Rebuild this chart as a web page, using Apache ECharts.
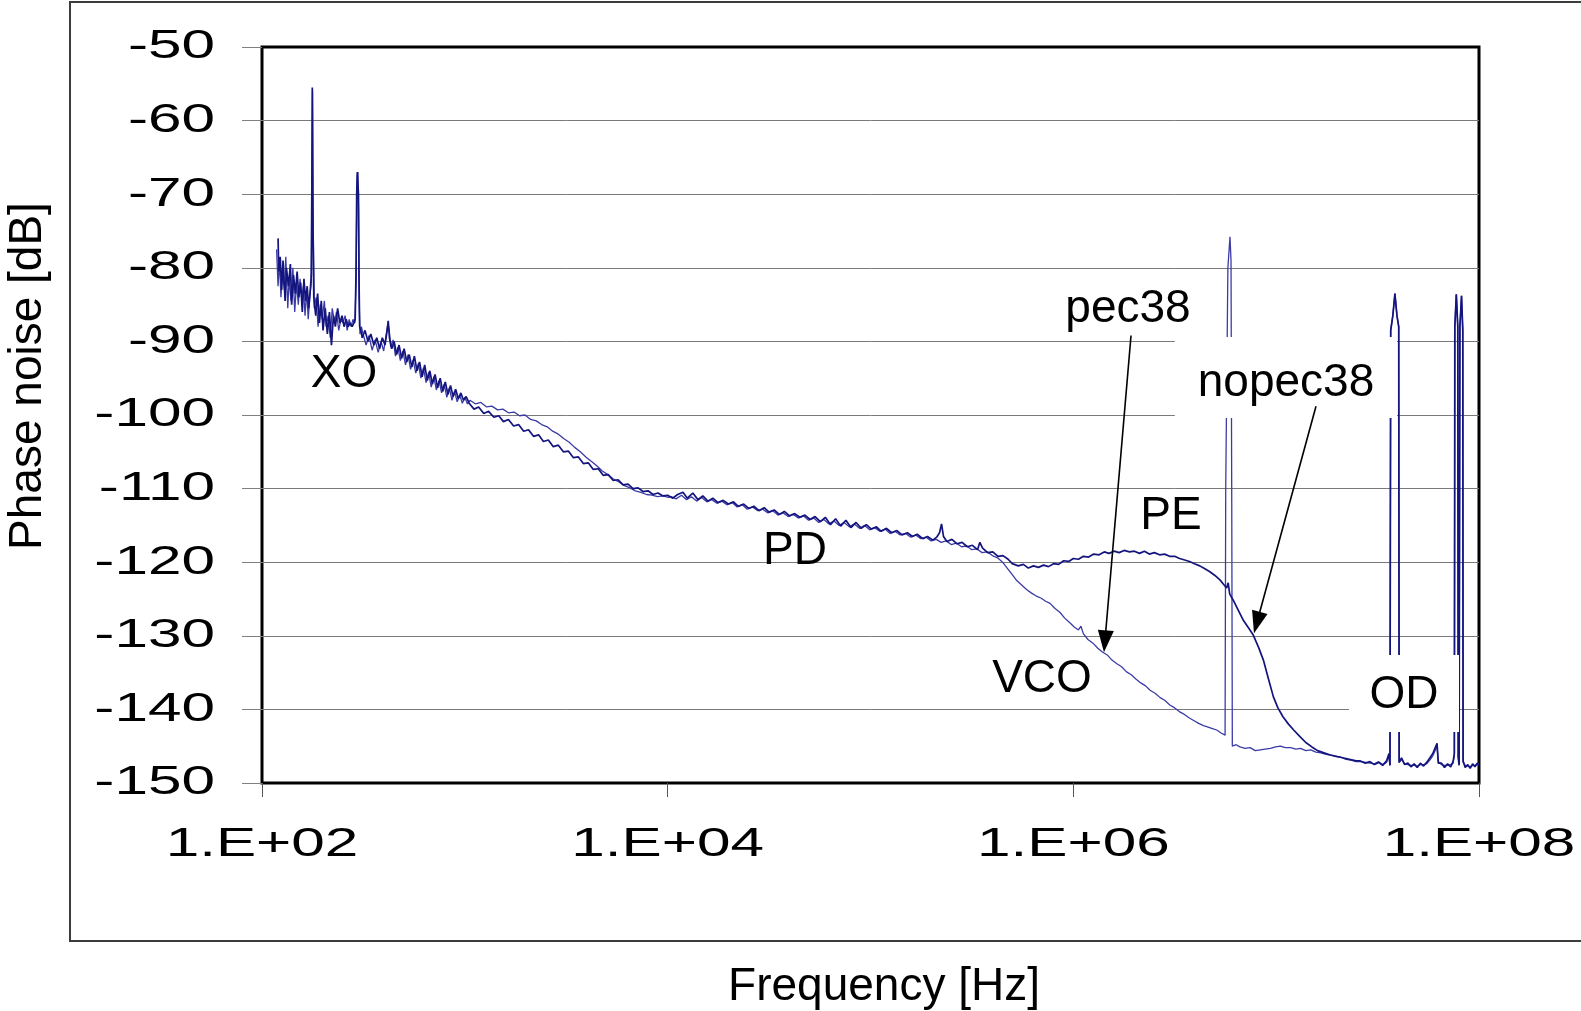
<!DOCTYPE html>
<html><head><meta charset="utf-8">
<script src="https://cdn.jsdelivr.net/npm/echarts/dist/echarts.min.js"></script>
<style>html,body{margin:0;padding:0;background:#fff}#c{width:1581px;height:1011px}</style>
</head><body><div id="c"></div>
<script>
// ---- tick labels ----
const xTickValues = [1e2, 1e4, 1e6, 1e8];
const xTickLabels = ['1.E+02', '1.E+04', '1.E+06', '1.E+08'];
const yTickValues = [-50, -60, -70, -80, -90, -100, -110, -120, -130, -140, -150];

// ---- series: [frequency Hz, phase noise dB] ----
const nopec38 = [
[120,-76.0],[121,-80.5],[123,-78.5],[125,-83.0],[127,-79.0],[130,-84.5],[132,-80.0],[135,-82.5],[138,-79.5],[140,-85.0],
[143,-81.0],[146,-83.5],[149,-80.5],[152,-84.0],[155,-82.0],[158,-86.0],[161,-81.5],[164,-84.5],[167,-82.5],[170,-85.5],
[173,-83.0],[175,-81.0],[176,-70.0],[177,-55.5],[178,-72.0],[180,-84.0],[184,-86.5],[188,-83.5],[192,-87.5],[196,-84.5],
[200,-88.5],[205,-85.5],[210,-89.0],[215,-86.0],[220,-90.5],[225,-86.5],[230,-88.0],[236,-85.5],[242,-87.5],[248,-86.5],
[254,-88.0],[260,-87.0],[266,-88.0],[272,-87.5],[278,-88.0],[284,-87.5],[288,-87.0],[291,-80.0],[293,-70.0],[295,-67.0],
[297,-67.0],[299,-70.0],[301,-82.0],[303,-88.0],[307,-88.5],
[312,-89.5],[322,-88.5],[333,-90.0],[344,-89.0],[356,-90.5],[368,-89.5],[380,-91.0],[392,-89.5],[404,-90.5],[414,-88.5],
[419,-87.2],[425,-89.5],[436,-91.0],[448,-90.0],[461,-91.8],[474,-90.5],[488,-92.3],[502,-91.0],[517,-92.8],[532,-91.8],
[548,-93.5],[564,-92.0],[581,-94.0],[598,-92.8],[616,-94.8],[634,-93.2],[653,-95.3],[672,-94.0],[692,-95.8],[713,-94.5],
[734,-96.3],[756,-95.0],[778,-96.8],[801,-95.5],[825,-97.2],[850,-96.0],[875,-97.5],[901,-96.5],[928,-97.8],[956,-97.0],
[985,-98.0],[1015,-97.5],
[1050,-98.4],[1110,-99.2],[1170,-98.9],[1240,-99.8],[1310,-99.5],[1390,-100.3],[1470,-100.1],[1550,-100.9],[1640,-100.6],
[1740,-101.5],[1840,-101.3],[1950,-102.2],[2060,-102.0],[2180,-102.9],[2310,-102.7],[2440,-103.6],[2580,-103.4],[2730,-104.3],
[2890,-104.1],[3060,-105.0],[3240,-104.9],[3430,-105.8],[3630,-105.7],[3840,-106.6],[4060,-106.5],[4300,-107.4],[4550,-107.3],
[4810,-108.2],[5090,-108.1],[5390,-108.9],[5700,-108.8],[6030,-109.5],[6380,-109.4],[6750,-110.0],[7150,-109.9],[7560,-110.4],
[8000,-110.3],[8470,-110.8],[8960,-110.6],[9480,-111.0],[10000,-110.9],
[10600,-111.3],[11200,-110.8],[11900,-110.5],[12500,-111.3],[13300,-110.6],[14100,-111.5],[14900,-111.0],[15800,-111.7],
[16700,-111.3],[17700,-111.9],[18800,-111.6],[19900,-112.1],[21100,-111.8],[22300,-112.4],[23700,-112.1],[25100,-112.7],
[26600,-112.4],[28200,-113.0],[29900,-112.6],[31600,-113.2],[33500,-112.9],[35500,-113.5],[37600,-113.1],[39900,-113.7],
[42300,-113.4],[44800,-113.9],[47500,-113.6],[50300,-114.2],[53300,-113.8],[56500,-114.5],[59900,-113.9],[63500,-114.9],
[67300,-114.1],[71300,-115.1],[75600,-114.3],[80100,-115.3],[84900,-114.6],[90000,-115.4],[95400,-114.9],[101000,-115.5],
[107000,-115.2],[113000,-115.8],[120000,-115.4],[127000,-116.0],[135000,-115.7],[143000,-116.3],[152000,-116.0],[161000,-116.5],
[170000,-116.2],[181000,-116.8],[191000,-116.5],[203000,-117.0],[212000,-116.6],[219000,-116.0],[224000,-114.8],[229000,-116.5],
[238000,-117.2],[252000,-116.9],[267000,-117.5],[283000,-117.3],[300000,-117.9],[318000,-117.7],[337000,-118.3],[346000,-117.3],
[357000,-118.1],[378000,-118.7],[401000,-118.6],[425000,-119.2],[450000,-119.1],[477000,-119.6],
[500000,-120.2],[535000,-120.5],[567000,-120.3],[600000,-120.8],[636000,-120.5],[673000,-120.7],[713000,-120.4],[754000,-120.6],
[799000,-120.2],[846000,-120.3],[896000,-119.8],[949000,-119.9],[1000000,-119.5],[1060000,-119.6],[1120000,-119.2],[1190000,-119.3],
[1260000,-118.9],[1340000,-119.0],[1420000,-118.6],[1500000,-118.8],[1590000,-118.5],[1680000,-118.7],[1780000,-118.4],[1890000,-118.6],
[2000000,-118.5],[2120000,-118.8],[2240000,-118.5],[2370000,-118.9],[2510000,-118.7],[2660000,-119.0],[2820000,-118.9],[2980000,-119.2],
[3160000,-119.2],[3340000,-119.5],[3540000,-119.7],[3740000,-119.9],[3960000,-120.2],[4200000,-120.5],[4450000,-120.9],[4710000,-121.3],
[4990000,-121.8],[5280000,-122.4],[5500000,-123.0],[5700000,-123.5],[5800000,-122.8],[5900000,-124.3],[6150000,-125.2],[6500000,-126.5],
[6890000,-127.9],[7300000,-128.9],[7710000,-129.9],[8200000,-131.6],[8650000,-133.3],[9150000,-135.8],[9690000,-138.3],[10200000,-139.8],
[10800000,-141.0],[11500000,-142.0],[12200000,-142.8],[13100000,-143.7],[14000000,-144.5],[15000000,-145.1],[16000000,-145.6],
[17200000,-145.9],[18500000,-146.2],[20000000,-146.4],[21500000,-146.6],[23000000,-146.8],[24800000,-147.0],
[26000000,-147.0],[27500000,-147.3],[29000000,-147.1],[30500000,-147.5],[32000000,-147.2],[33500000,-147.6],[35000000,-147.0],
[36000000,-146.0],[36400000,-147.6],[36700000,-88.5],[37600000,-86.5],[38500000,-83.5],[39400000,-86.5],[40200000,-88.0],
[40400000,-147.2],[41500000,-146.6],[43000000,-147.5],[44600000,-147.3],[46200000,-147.8],[47900000,-147.4],[49600000,-147.9],
[51400000,-147.3],[53300000,-147.7],[55200000,-147.2],[57200000,-146.6],[59200000,-146.0],[62100000,-144.6],[63000000,-147.3],
[65300000,-147.3],[67600000,-147.9],[70000000,-147.4],[72500000,-147.8],[74500000,-147.1],[75600000,-146.0],[76000000,-88.0],
[77300000,-83.6],[78600000,-88.0],[79000000,-146.5],[79800000,-147.6],[80500000,-88.0],[82000000,-83.8],[83200000,-88.5],
[83500000,-147.0],[85500000,-147.9],[88000000,-147.5],[90500000,-148.0],[93000000,-147.4],[95500000,-147.8],[98000000,-147.3],
[100000000,-147.6]
];

const pec38 = [
[118,-77.5],[120,-82.5],[122,-79.0],[124,-84.0],[126,-80.5],[129,-83.0],[131,-78.5],[134,-85.5],[136,-81.5],[139,-84.5],
[142,-80.0],[145,-86.0],[148,-82.0],[151,-85.0],[154,-81.5],[157,-84.0],[160,-82.5],[163,-86.5],[166,-83.0],[169,-87.0],
[172,-84.0],[175,-82.0],[176.5,-68.0],[177.5,-56.0],[179,-75.0],[181,-85.5],[185,-84.0],[189,-88.0],[194,-85.0],[198,-87.0],
[203,-84.5],[207,-88.0],[212,-86.5],[217,-89.5],[222,-85.5],[228,-87.5],[233,-86.0],[239,-88.5],[245,-87.0],[251,-87.5],
[257,-86.5],[263,-88.5],[269,-87.0],[275,-88.0],[281,-87.0],[287,-87.5],[291,-82.0],[293,-72.0],[295,-67.5],[297,-67.0],
[299,-72.0],[301,-84.0],[304,-89.0],[309,-88.0],
[315,-89.0],[326,-90.5],[337,-89.2],[349,-91.2],[361,-89.8],[374,-91.5],[386,-90.0],[398,-91.3],[410,-89.0],[418,-87.5],
[424,-88.5],[431,-90.8],[443,-89.8],[455,-92.0],[468,-90.8],[481,-92.6],[495,-91.3],[510,-93.2],[525,-91.8],[540,-93.8],
[556,-92.5],[573,-94.3],[590,-93.0],[607,-95.0],[625,-93.6],[644,-95.6],[663,-94.2],[683,-96.2],[703,-94.8],[724,-96.6],
[746,-95.3],[768,-97.0],[791,-95.8],[815,-97.6],[839,-96.3],[864,-98.0],[890,-96.8],[917,-98.2],[944,-97.3],[972,-98.4],
[1001,-97.6],[1030,-98.5],
[1060,-98.0],[1130,-98.5],[1200,-98.3],[1280,-98.9],[1360,-98.8],[1450,-99.3],[1540,-99.2],[1640,-99.7],[1750,-99.6],
[1860,-100.1],[1980,-100.0],[2110,-100.6],[2250,-100.8],[2390,-101.3],[2550,-101.6],[2710,-102.2],[2890,-102.6],[3070,-103.2],
[3270,-103.7],[3480,-104.4],[3710,-105.0],[3950,-105.7],[4200,-106.3],[4470,-106.9],[4760,-107.6],[5070,-108.1],[5400,-108.7],
[5750,-109.1],[6120,-109.6],[6510,-109.9],[6930,-110.3],[7380,-110.5],[7860,-110.8],[8370,-110.9],[8910,-111.1],[9480,-111.0],
[10100,-111.2],
[10400,-111.1],[11000,-111.4],[11700,-110.9],[12400,-111.5],[13100,-111.1],[13900,-111.7],[14700,-111.2],[15600,-111.8],
[16500,-111.5],[17500,-112.0],[18500,-111.7],[19600,-112.2],[20800,-111.9],[22000,-112.5],[23300,-112.2],[24700,-112.8],
[26200,-112.5],[27800,-113.0],[29400,-112.8],[31200,-113.3],[33000,-113.0],[35000,-113.6],[37100,-113.3],[39300,-113.8],
[41600,-113.5],[44100,-114.0],[46700,-113.7],[49500,-114.3],[52500,-114.0],[55600,-114.6],[58900,-114.2],[62400,-114.8],
[66100,-114.4],[70000,-115.0],[74200,-114.6],[78600,-115.2],[83300,-114.8],[88300,-115.4],[93500,-115.0],[99100,-115.6],
[105000,-115.3],[111000,-115.8],[118000,-115.5],[125000,-116.1],[132000,-115.8],[140000,-116.3],[149000,-116.1],[158000,-116.6],
[167000,-116.3],[177000,-116.8],[188000,-116.6],[199000,-117.1],[211000,-116.9],[223000,-117.3],[236000,-117.1],[250000,-117.6],
[265000,-117.4],[281000,-117.9],[298000,-117.8],[316000,-118.3],[335000,-118.2],[355000,-118.7],[376000,-118.6],[399000,-119.1],
[423000,-119.4],[448000,-120.0],[475000,-120.9],[500000,-121.7],[526000,-122.5],[556000,-123.1],[588000,-123.7],[622000,-124.2],
[657000,-124.6],[695000,-124.9],[730000,-125.3],[768000,-125.6],[812000,-126.3],[858000,-126.8],[907000,-127.6],[958000,-128.2],
[1010000,-128.8],[1060000,-129.2],[1090000,-128.7],[1120000,-129.7],[1180000,-130.5],[1250000,-131.0],[1320000,-131.7],[1390000,-132.2],
[1470000,-132.6],[1550000,-133.3],[1640000,-133.8],[1730000,-134.2],[1830000,-134.9],[1930000,-135.3],[2040000,-135.9],[2150000,-136.4],
[2270000,-136.8],[2390000,-137.4],[2530000,-137.8],[2680000,-138.4],[2830000,-138.8],[2990000,-139.4],[3160000,-139.8],[3330000,-140.3],
[3490000,-140.6],[3700000,-141.1],[3920000,-141.5],[4150000,-141.9],[4380000,-142.2],[4620000,-142.4],[4850000,-142.6],[5090000,-142.8],
[5350000,-143.2],[5600000,-143.5],[5640000,-110.0],[5780000,-80.0],[5920000,-75.8],[5990000,-79.0],[6040000,-112.0],[6080000,-145.0],
[6350000,-144.8],[6630000,-145.1],[7030000,-145.3],[7440000,-145.2],[7890000,-145.6],[8350000,-145.5],[8840000,-145.4],[9360000,-145.3],
[9930000,-145.1],[10500000,-145.0],[11100000,-145.2],[11800000,-145.2],[12500000,-145.4],[13200000,-145.3],[14000000,-145.6],
[14800000,-145.5],[15700000,-145.8],[16600000,-145.9],[17600000,-146.1],[18600000,-146.2],[19700000,-146.4],[20900000,-146.5],
[22100000,-146.8],[23400000,-146.9],[24800000,-147.1],
[26000000,-147.1],[27500000,-147.2],[29000000,-147.3],[30500000,-147.4],[32000000,-147.1],[33500000,-147.5],[35000000,-147.2],
[36000000,-146.3],[36400000,-147.6],[36700000,-88.5],[37600000,-86.5],[38500000,-83.5],[39400000,-86.5],[40200000,-88.0],
[40400000,-147.2],[41500000,-146.8],[43000000,-147.4],[44600000,-147.5],[46200000,-147.6],[47900000,-147.6],[49600000,-147.7],
[51400000,-147.5],[53300000,-147.5],[55200000,-147.4],[57200000,-146.9],[59200000,-146.3],[62100000,-145.0],[63000000,-147.1],
[65300000,-147.5],[67600000,-147.6],[70000000,-147.6],[72500000,-147.5],[74500000,-147.3],[75600000,-146.2],[76000000,-88.0],
[77300000,-83.6],[78600000,-88.0],[79000000,-146.5],[79800000,-147.4],[80500000,-88.0],[82000000,-83.8],[83200000,-88.5],
[83500000,-147.2],[85500000,-147.6],[88000000,-147.7],[90500000,-147.8],[93000000,-147.6],[95500000,-147.6],[98000000,-147.5],
[100000000,-147.4]
];

// arrows: [from, head centre] in data coordinates
const arrowPec38 = [[1.925e6, -89.2], [1.431e6, -130.75]];
const arrowNopec38 = [[1.572e7, -98.8], [8.035e6, -128.2]];

const FONT = "'Liberation Sans', Arial, Helvetica, sans-serif";
const chart = echarts.init(document.getElementById('c'));

chart.setOption({
  animation: false,
  backgroundColor: '#ffffff',
  grid: { left: 262, top: 47, width: 1217, height: 736, show: true,
          borderColor: '#000', borderWidth: 3, backgroundColor: 'transparent' },
  xAxis: {
    type: 'log', logBase: 100, min: 100, max: 1e8,
    axisLine: { show: false },
    axisTick: { show: true, length: 14, lineStyle: { color: '#555', width: 1 } },
    axisLabel: { show: false },
    splitLine: { show: false }, minorTick: { show: false }
  },
  yAxis: {
    type: 'value', min: -150, max: -50, interval: 10,
    axisLine: { show: false },
    axisTick: { show: true, length: 20, lineStyle: { color: '#808080', width: 1 } },
    axisLabel: { show: false },
    splitLine: { show: true, showMinLine: false, showMaxLine: false, lineStyle: { color: '#7a7a7a', width: 1 } }
  },
  series: [
    { name: 'pec38', type: 'line', data: pec38, symbol: 'none', silent: true, z: 2,
      lineStyle: { color: '#3b3ba6', width: 1.3 } },
    { name: 'nopec38', type: 'line', data: nopec38, symbol: 'none', silent: true, z: 3,
      lineStyle: { color: '#14147f', width: 1.7 },
      markLine: {
        silent: true, z: 60, animation: false,
        symbol: ['none', 'triangle'], symbolSize: [16, 22],
        lineStyle: { color: '#000', width: 1.6, type: 'solid' },
        label: { show: false }, emphasis: { disabled: true },
        data: [
          [{ coord: arrowPec38[0] }, { coord: arrowPec38[1] }],
          [{ coord: arrowNopec38[0] }, { coord: arrowNopec38[1] }]
        ]
      } }
  ]
});

function txt(text, x, y, size, opts) {
  opts = opts || {};
  return Object.assign({
    type: 'text', x: x, y: y, z: 100, silent: true,
    style: { text: text, font: size + 'px ' + FONT, fill: '#000',
             textAlign: opts.align || 'center', align: opts.align || 'center',
             textVerticalAlign: 'middle', verticalAlign: 'middle' }
  }, opts.extra || {});
}

const g = [];
g.push({ type: 'rect', z: 1, silent: true, shape: { x: 70, y: 2, width: 1540, height: 939 },
         style: { fill: 'none', stroke: '#3c3c3c', lineWidth: 2 } });
// white label boxes (they hide the grid lines and curves under them)
g.push({ type: 'rect', z: 50, silent: true, shape: { x: 1175, y: 337, width: 222, height: 81 }, style: { fill: '#fff' } });
g.push({ type: 'rect', z: 50, silent: true, shape: { x: 1349, y: 655, width: 110, height: 77 }, style: { fill: '#fff' } });

xTickValues.forEach(function (v, i) {
  const px = chart.convertToPixel({ xAxisIndex: 0 }, v);
  g.push(txt(xTickLabels[i], px, 845, 41, { extra: { scaleX: 1.47 } }));
});
yTickValues.forEach(function (v) {
  const py = chart.convertToPixel({ yAxisIndex: 0 }, v);
  g.push(txt(String(v), 215, py, 41, { align: 'right', extra: { scaleX: 1.47 } }));
});

g.push(txt('Phase noise [dB]', 28, 376, 46, { extra: { rotation: Math.PI / 2 } }));
g.push(txt('Frequency [Hz]', 884, 987, 46));

g.push(txt('XO', 344, 374, 46));
g.push(txt('PD', 795, 551, 46));
g.push(txt('PE', 1171, 516, 46));
g.push(txt('VCO', 1042, 679, 46));
g.push(txt('OD', 1404, 695, 46));
g.push(txt('pec38', 1128, 309, 46));
g.push(txt('nopec38', 1286, 383, 46));

chart.setOption({ graphic: { elements: g } });
</script>
</body></html>
